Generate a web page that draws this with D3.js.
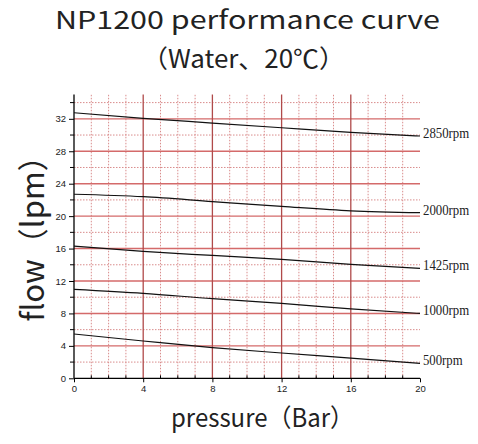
<!DOCTYPE html>
<html><head><meta charset="utf-8">
<script src="https://cdn.jsdelivr.net/npm/d3@7"></script>
<style>
html,body{margin:0;padding:0;background:#fff;}
svg{display:block;}
</style>
</head><body>
<svg id="chart" width="478" height="444"></svg>
<script>
const pressures = [0, 4, 8, 12, 16, 20];
const flow2850 = [32.75, 32.06, 31.48, 30.9, 30.33, 29.88];
const flow2000 = [22.7, 22.4, 21.8, 21.2, 20.65, 20.42];
const flow1425 = [16.3, 15.65, 15.15, 14.67, 14.05, 13.56];
const flow1000 = [10.97, 10.48, 9.82, 9.25, 8.55, 8.0];
const flow500  = [5.46, 4.6, 3.78, 3.12, 2.5, 1.85];
const seriesNames = ["2850rpm", "2000rpm", "1425rpm", "1000rpm", "500rpm"];
const xTicks = [0, 4, 8, 12, 16, 20];
const yTicks = [0, 4, 8, 12, 16, 20, 24, 28, 32];

const series = [flow2850, flow2000, flow1425, flow1000, flow500].map((v, i) => ({
  name: seriesNames[i], values: v.map((f, j) => ({p: pressures[j], f}))
}));

const svg = d3.select("#chart");
const x = d3.scaleLinear().domain([0, 20]).range([74, 420]);
const y = d3.scaleLinear().domain([0, 35]).range([378.3, 94.5]);

// minor grid (dotted)
const g = svg.append("g");
g.selectAll(".vmin").data(d3.range(1, 20).filter(d => d % 4 !== 0)).join("line")
  .attr("x1", d => x(d)).attr("x2", d => x(d)).attr("y1", y(0)).attr("y2", y(35))
  .attr("stroke", "#d98c8c").attr("stroke-width", 1).attr("stroke-dasharray", "1.5,1.5");
g.selectAll(".hmin").data(d3.range(2, 36, 4)).join("line")
  .attr("x1", x(0)).attr("x2", x(20)).attr("y1", d => y(d)).attr("y2", d => y(d))
  .attr("stroke", "#d98c8c").attr("stroke-width", 1).attr("stroke-dasharray", "1.5,1.5");
// major grid
g.selectAll(".hmaj").data(yTicks.filter(d => d > 0)).join("line")
  .attr("x1", x(0)).attr("x2", x(20)).attr("y1", d => y(d)).attr("y2", d => y(d))
  .attr("stroke", "#d46a6a").attr("stroke-width", 1.4);
g.selectAll(".vmaj").data(xTicks.filter(d => d > 0 && d < 20)).join("line")
  .attr("x1", d => x(d)).attr("x2", d => x(d)).attr("y1", y(0)).attr("y2", y(35))
  .attr("stroke", "#b04a4a").attr("stroke-width", 1.3);

// axes
const xAxis = d3.axisBottom(x).tickValues(xTicks).tickSize(4).tickPadding(3);
const gx = svg.append("g").attr("transform", `translate(0,${y(0)})`).call(xAxis);
gx.select(".domain").attr("d", `M${x(0)},0H${x(20)}`).attr("stroke", "#000").attr("stroke-width", 1.3);
gx.selectAll("text").attr("font-family", "Liberation Sans, Arial, sans-serif").attr("font-size", 9.5).attr("fill", "#222");
gx.selectAll(".minor").data(d3.range(1, 20).filter(d => d % 4 !== 0)).join("line")
  .attr("x1", d => x(d)).attr("x2", d => x(d)).attr("y1", 0).attr("y2", -3).attr("stroke", "#000");

const yAxis = d3.axisLeft(y).tickValues(yTicks).tickSize(5).tickPadding(3);
const gy = svg.append("g").attr("transform", `translate(${x(0)},0)`).call(yAxis);
gy.select(".domain").attr("d", `M0,${y(0)}V${y(35)}`).attr("stroke", "#000").attr("stroke-width", 1.3);
gy.selectAll("text").attr("font-family", "Liberation Sans, Arial, sans-serif").attr("font-size", 9.5).attr("fill", "#222");
gy.selectAll(".minor").data(d3.range(2, 36, 4)).join("line")
  .attr("x1", 0).attr("x2", -4).attr("y1", d => y(d)).attr("y2", d => y(d)).attr("stroke", "#000");

// curves
const line = d3.line().x(d => x(d.p)).y(d => y(d.f)).curve(d3.curveMonotoneX);
svg.append("g").selectAll("path").data(series).join("path")
  .attr("d", d => line(d.values)).attr("fill", "none").attr("stroke", "#111").attr("stroke-width", 1.2);
svg.append("g").selectAll("text").data(series).join("text")
  .attr("x", x(20) + 3).attr("y", d => y(d.values[d.values.length - 1].f) + 2)
  .attr("font-family", "Liberation Serif, DejaVu Serif, serif").attr("font-size", 14.5)
  .attr("textLength", d => d.name.length * 6.6).attr("lengthAdjust", "spacingAndGlyphs")
  .attr("fill", "#222").text(d => d.name);

// titles
const cjk = "'Noto Sans CJK SC', 'Noto Sans', sans-serif";
svg.append("text").attr("x", 55).attr("y", 28.5)
  .attr("textLength", 385).attr("lengthAdjust", "spacingAndGlyphs")
  .attr("font-family", cjk).attr("font-size", 24.5).attr("fill", "#222").text("NP1200 performance curve");
svg.append("text").attr("x", 142).attr("y", 68)
  .attr("textLength", 203).attr("lengthAdjust", "spacingAndGlyphs")
  .attr("font-family", cjk).attr("font-size", 25).attr("fill", "#222").text("（Water、20℃）");
svg.append("text").attr("transform", "translate(44,231) rotate(-90)").attr("text-anchor", "middle")
  .attr("font-family", cjk).attr("font-size", 31).attr("fill", "#222").text("flow（lpm）");
svg.append("text").attr("x", 171).attr("y", 427)
  .attr("textLength", 183).attr("lengthAdjust", "spacingAndGlyphs")
  .attr("font-family", cjk).attr("font-size", 25).attr("fill", "#222").text("pressure（Bar）");
</script>
</body></html>
